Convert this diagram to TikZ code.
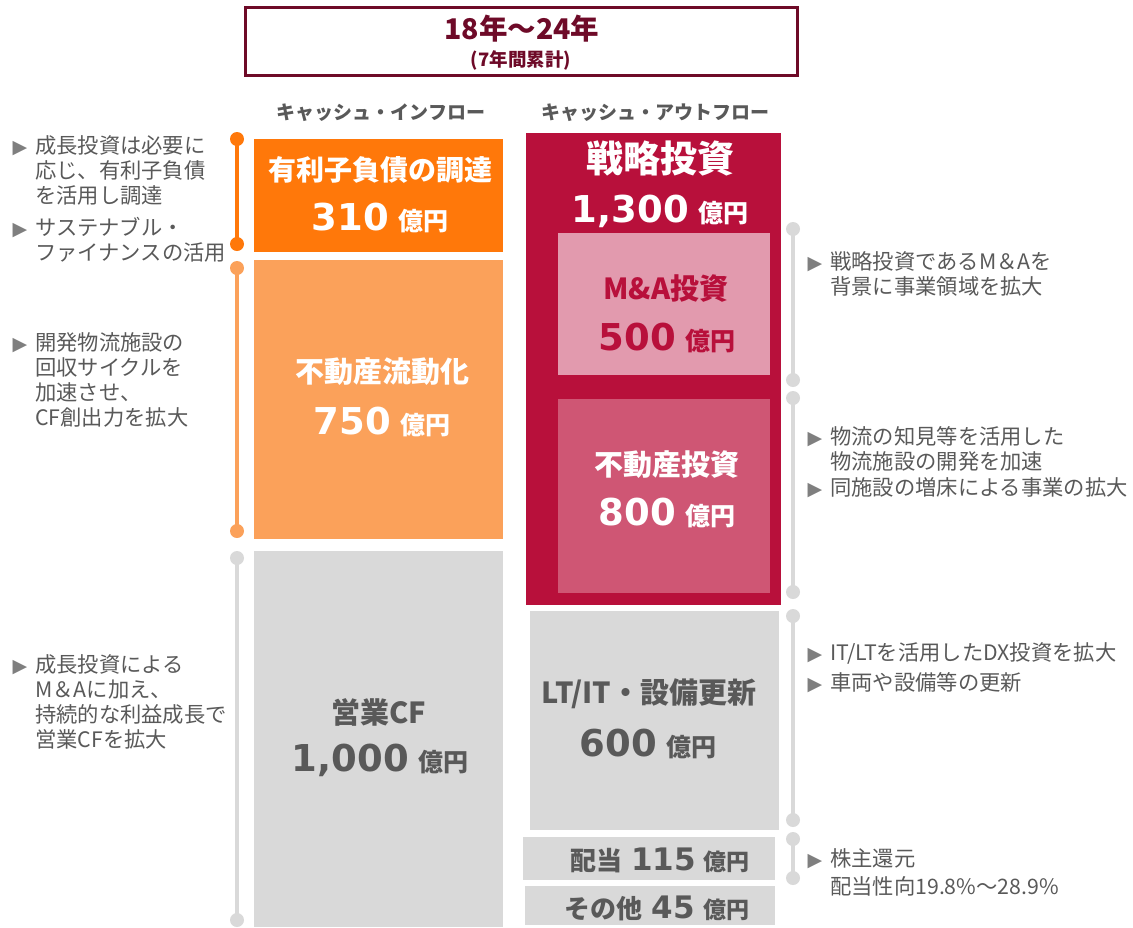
\documentclass[tikz,border=0pt]{standalone}
\usepackage{fontspec}
\setmainfont{Noto Sans CJK JP}
\newfontfamily\numf{DejaVu Sans}
\newfontfamily\symf{DejaVu Sans}
\definecolor{hdr}{HTML}{6E0A28}
\definecolor{org}{HTML}{FF780A}
\definecolor{lorg}{HTML}{FBA15A}
\definecolor{lgray}{HTML}{D9D9D9}
\definecolor{crim}{HTML}{B8103B}
\definecolor{pinkA}{HTML}{E29AAE}
\definecolor{pinkB}{HTML}{CF5674}
\definecolor{tgray}{HTML}{595959}
\definecolor{bgray}{HTML}{7F7F7F}
\newcommand\tri{\llap{\textcolor{bgray}{\symf\fontsize{19}{19}\selectfont ▶}\hspace{8pt}}}
\newcommand\amt[4]{{\numf\bfseries\fontsize{#2}{#2}\selectfont #1}\hspace{#4}{\bfseries\fontsize{#3}{#3}\selectfont 億円}}
\tikzset{
  bx/.style={rectangle, inner sep=0pt, outer sep=0pt, anchor=north west},
  side/.style={anchor=west, align=left, inner sep=0pt, text=tgray, font=\fontsize{21.3}{25}\selectfont},
  ttl/.style={inner sep=0pt, font=\bfseries\fontsize{29}{29}\selectfont},
  amtn/.style={inner sep=0pt, anchor=base},
  tl/.style={line width=4pt},
}
\begin{document}
\begin{tikzpicture}[x=1pt,y=-1pt]
\useasboundingbox (0,0) rectangle (1133,927);
% header
\node[bx, draw=hdr, line width=3pt, fill=white, minimum width=552pt, minimum height=68pt] (hbox) at (245,7) {};
\node[inner sep=0pt, text=hdr, font=\bfseries\fontsize{28.5}{28.5}\selectfont] (htitle) at (522,29) {18年～24年};
\node[inner sep=0pt, text=hdr, font=\bfseries\fontsize{18.5}{18.5}\selectfont] (hsub) at (521,60) {(7年間累計)};
% column heads
\node[inner sep=0pt, text=tgray, font=\bfseries\fontsize{19}{19}\selectfont] (inh) at (381,113) {キャッシュ・インフロー};
\node[inner sep=0pt, text=tgray, font=\bfseries\fontsize{19}{19}\selectfont] (outh) at (655,113) {キャッシュ・アウトフロー};
% inflow boxes
\node[bx, fill=org, minimum width=249pt, minimum height=113pt] (debt) at (254,139) {};
\node[bx, fill=lorg, minimum width=249pt, minimum height=279pt] (reit) at (254,260) {};
\node[bx, fill=lgray, minimum width=249pt, minimum height=376pt] (opcf) at (254,551) {};
% outflow boxes
\node[bx, fill=crim, minimum width=255pt, minimum height=472pt] (strat) at (526,133) {};
\node[bx, fill=pinkA, minimum width=212pt, minimum height=142pt] (ma) at (558,233) {};
\node[bx, fill=pinkB, minimum width=212pt, minimum height=194pt] (re) at (558,399) {};
\node[bx, fill=lgray, minimum width=249pt, minimum height=219pt] (ltit) at (530,611) {};
\node[bx, fill=lgray, minimum width=252pt, minimum height=43pt] (div) at (523,837) {};
\node[bx, fill=lgray, minimum width=250pt, minimum height=39pt] (oth) at (525,886) {};
% box texts
\node[ttl, text=white, font=\bfseries\fontsize{28}{28}\selectfont] (debtT) at (380,170) {有利子負債の調達};
\node[amtn, text=white] (debtA) at (380,230) {\amt{310}{37}{25}{9pt}};
\node[ttl, text=white] (reitT) at (382,372) {不動産流動化};
\node[amtn, text=white] (reitA) at (382,434) {\amt{750}{37}{25}{9pt}};
\node[ttl, text=tgray] (opcfT) at (379,712) {営業CF};
\node[amtn, text=tgray] (opcfA) at (380,771) {\amt{1,000}{37}{25}{9pt}};
\node[ttl, text=white, font=\bfseries\fontsize{37}{37}\selectfont] (stratT) at (660,158) {戦略投資};
\node[amtn, text=white] (stratA) at (660,222) {\amt{1,300}{37}{25}{9pt}};
\node[ttl, text=crim] (maT) at (666,289) {M\&A投資};
\node[amtn, text=crim] (maA) at (667,350) {\amt{500}{37}{25}{9pt}};
\node[ttl, text=white] (reT) at (667,465) {不動産投資};
\node[amtn, text=white] (reA) at (667,525) {\amt{800}{37}{25}{9pt}};
\node[ttl, text=tgray] (ltitT) at (649,694) {LT/IT・設備更新};
\node[amtn, text=tgray] (ltitA) at (648,756) {\amt{600}{37}{25}{9pt}};
\node[amtn, text=tgray] (divA) at (660,870) {{\bfseries\fontsize{26}{26}\selectfont 配当}\hspace{9pt}\amt{115}{31}{23}{8pt}};
\node[amtn, text=tgray] (othA) at (657,918) {{\bfseries\fontsize{26}{26}\selectfont その他}\hspace{9pt}\amt{45}{31}{23}{8pt}};
% timelines
\coordinate (l1a) at (237,139); \coordinate (l1b) at (237,244);
\coordinate (l2a) at (237,268); \coordinate (l2b) at (237,531);
\coordinate (l3a) at (237,558); \coordinate (l3b) at (237,920);
\coordinate (r1a) at (793,229); \coordinate (r1b) at (793,380);
\coordinate (r2a) at (793,398); \coordinate (r2b) at (793,592);
\coordinate (r3a) at (793,616); \coordinate (r3b) at (793,820);
\coordinate (r4a) at (793,839); \coordinate (r4b) at (793,878);
\foreach \n/\c in {l1/org, l2/lorg, l3/lgray, r1/lgray, r2/lgray, r3/lgray, r4/lgray}{
  \draw[tl, \c] (\n a) -- (\n b);
  \fill[\c] (\n a) circle (7pt);
  \fill[\c] (\n b) circle (7pt);
}
% left side texts
\node[side] (s1) at (35,170) {\tri 成長投資は必要に\\応じ、有利子負債\\を活用し調達};
\node[side] (s2) at (35,240) {\tri サステナブル・\\ファイナンスの活用};
\node[side] (s3) at (35,380) {\tri 開発物流施設の\\回収サイクルを\\加速させ、\\CF創出力を拡大};
\node[side] (s4) at (35,702) {\tri 成長投資による\\M＆Aに加え、\\持続的な利益成長で\\営業CFを拡大};
% right side texts
\node[side] (r1t) at (830,274) {\tri 戦略投資であるM＆Aを\\背景に事業領域を拡大};
\node[side] (r2t) at (830,449) {\tri 物流の知見等を活用した\\物流施設の開発を加速};
\node[side] (r3t) at (830,488) {\tri 同施設の増床による事業の拡大};
\node[side] (r4t) at (830,653) {\tri IT/LTを活用したDX投資を拡大};
\node[side] (r5t) at (830,683) {\tri 車両や設備等の更新};
\node[side, font=\fontsize{21.3}{28}\selectfont] (r6t) at (830,872) {\tri 株主還元\\配当性向19.8\%～28.9\%};
\end{tikzpicture}
\end{document}
